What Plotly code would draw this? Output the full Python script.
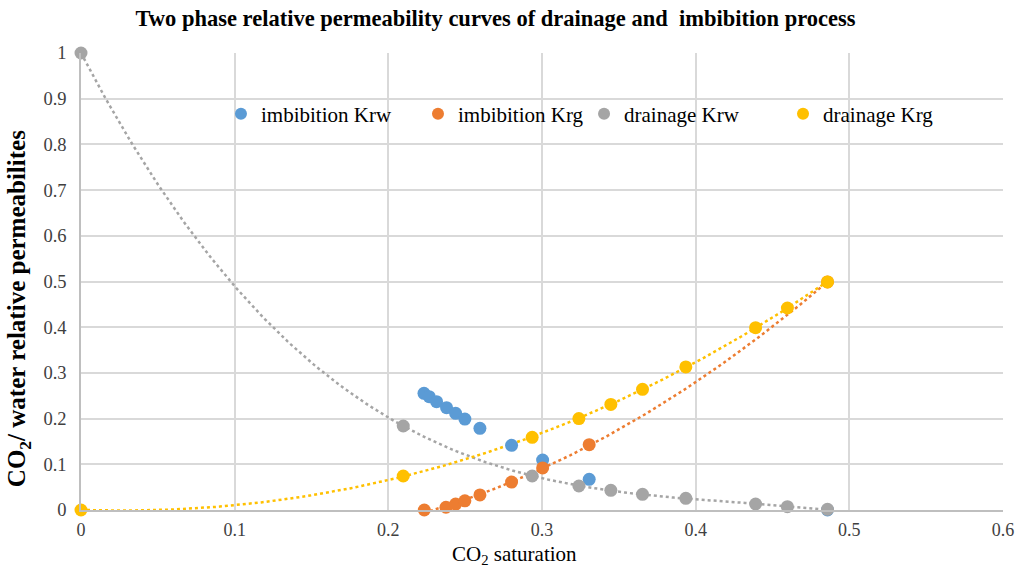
import numpy as np
import plotly.graph_objects as go

# Imbibition Krw
imb_krw_x = [0.2232, 0.2266, 0.2314, 0.2379, 0.2438, 0.2498, 0.2596, 0.2802, 0.3004, 0.3307, 0.4858]
imb_krw_y = [0.2554, 0.2480, 0.2370, 0.2240, 0.2116, 0.1990, 0.1788, 0.1415, 0.1094, 0.0672, 0.0]
# Imbibition Krg
imb_krg_x = [0.2234, 0.2375, 0.2438, 0.2498, 0.2596, 0.2802, 0.3004, 0.3307, 0.4858]
imb_krg_y = [0.0, 0.006, 0.013, 0.020, 0.033, 0.061, 0.092, 0.143, 0.499]
# Drainage Krw
dr_krw_x = [0.0, 0.2097, 0.2936, 0.3240, 0.3448, 0.3654, 0.3936, 0.4390, 0.4597, 0.4858]
dr_krw_y = [1.0, 0.1838, 0.0744, 0.0525, 0.0430, 0.0343, 0.0256, 0.0131, 0.0072, 0.0015]
# Drainage Krg
dr_krg_x = [0.0, 0.2097, 0.2936, 0.3240, 0.3448, 0.3654, 0.3936, 0.4390, 0.4597, 0.4858]
dr_krg_y = [0.0, 0.0744, 0.1590, 0.2000, 0.2310, 0.2640, 0.3130, 0.3990, 0.4420, 0.4990]

x_ticks = [0, 0.1, 0.2, 0.3, 0.4, 0.5, 0.6]
x_tick_labels = ["0", "0.1", "0.2", "0.3", "0.4", "0.5", "0.6"]
y_ticks = [0, 0.1, 0.2, 0.3, 0.4, 0.5, 0.6, 0.7, 0.8, 0.9, 1.0]
y_tick_labels = ["0", "0.1", "0.2", "0.3", "0.4", "0.5", "0.6", "0.7", "0.8", "0.9", "1"]

BLUE = "#5B9BD5"
ORANGE = "#ED7D31"
GRAY = "#A5A5A5"
YELLOW = "#FFC000"
FONT = "Liberation Serif"


def trend(xs, ys, deg):
    c = np.polyfit(xs, ys, deg)
    gx = np.linspace(min(xs), max(xs), 200)
    return gx, np.polyval(c, gx)


fig = go.Figure()

for xs, ys, deg, col in [
    (imb_krg_x, imb_krg_y, 2, ORANGE),
    (dr_krw_x, dr_krw_y, 3, GRAY),
    (dr_krg_x, dr_krg_y, 3, YELLOW),
]:
    tx, ty = trend(xs, ys, deg)
    fig.add_trace(go.Scatter(x=tx, y=ty, mode="lines", showlegend=False,
                             line=dict(color=col, width=2.5, dash="dot"),
                             hoverinfo="skip", cliponaxis=False))

series = [
    ("imbibition Krw", imb_krw_x, imb_krw_y, BLUE, "legend"),
    ("imbibition Krg", imb_krg_x, imb_krg_y, ORANGE, "legend2"),
    ("drainage Krw", dr_krw_x, dr_krw_y, GRAY, "legend3"),
    ("drainage Krg", dr_krg_x, dr_krg_y, YELLOW, "legend4"),
]
for name, xs, ys, col, lg in series:
    fig.add_trace(go.Scatter(x=xs, y=ys, mode="markers", name=name, legend=lg,
                             marker=dict(color=col, size=13, line=dict(width=0)),
                             cliponaxis=False))

legend_font = dict(family=FONT, size=21, color="black")
legend_y = 0.8665


def leg(x):
    return dict(orientation="h", x=x, y=legend_y, xanchor="left", yanchor="middle",
                bgcolor="rgba(0,0,0,0)", font=legend_font, itemsizing="constant")


fig.update_layout(
    width=1016, height=571,
    margin=dict(l=81, r=13, t=53, b=61),
    paper_bgcolor="white", plot_bgcolor="white",
    font=dict(family=FONT, color="#404040", size=18),
    title=dict(text="<b>Two phase relative permeability curves of drainage and  imbibition process</b>",
               x=0.4877, xanchor="center", y=0.968, yanchor="middle",
               font=dict(family=FONT, size=22.5, color="black")),
    xaxis=dict(range=[0, 0.6], tickmode="array", tickvals=x_ticks, ticktext=x_tick_labels,
               showgrid=True, gridcolor="#D9D9D9", gridwidth=1.5,
               showline=True, linecolor="#BFBFBF", linewidth=1.5,
               zeroline=False, ticks="", ticklen=0, automargin=False,
               ticklabelstandoff=3,
               tickfont=dict(family=FONT, size=18, color="#404040")),
    yaxis=dict(range=[0, 1], tickmode="array", tickvals=y_ticks, ticktext=y_tick_labels,
               showgrid=True, gridcolor="#D9D9D9", gridwidth=1.5,
               showline=True, linecolor="#BFBFBF", linewidth=1.5,
               zeroline=False, ticks="", ticklen=0, automargin=False,
               ticklabelstandoff=9,
               tickfont=dict(family=FONT, size=18.5, color="#404040")),
    legend=leg(0.1518),
    legend2=leg(0.3655),
    legend3=leg(0.5456),
    legend4=leg(0.7614),
    shapes=[
        dict(type="rect", xref="paper", yref="paper", x0=0.1866, x1=0.9967, y0=0.8184, y1=0.9147,
             fillcolor="white", line=dict(width=0), layer="between"),
        dict(type="rect", xref="paper", yref="paper", x0=0.1974, x1=0.8633, y0=0.7921, y1=0.9147,
             fillcolor="white", line=dict(width=0), layer="between"),
    ],
    annotations=[
        dict(text="<b>CO<sub>2</sub>/ water relative permeabilites</b>", textangle=-90,
             xref="paper", yref="paper", x=-0.067, y=0.44, xanchor="center", yanchor="middle",
             showarrow=False, font=dict(family=FONT, size=25, color="black")),
        dict(text="CO<sub>2</sub> saturation",
             xref="paper", yref="paper", x=0.4707, y=-0.0995, xanchor="center", yanchor="middle",
             showarrow=False, font=dict(family=FONT, size=21, color="black")),
    ],
)

fig.write_html("out.html")
